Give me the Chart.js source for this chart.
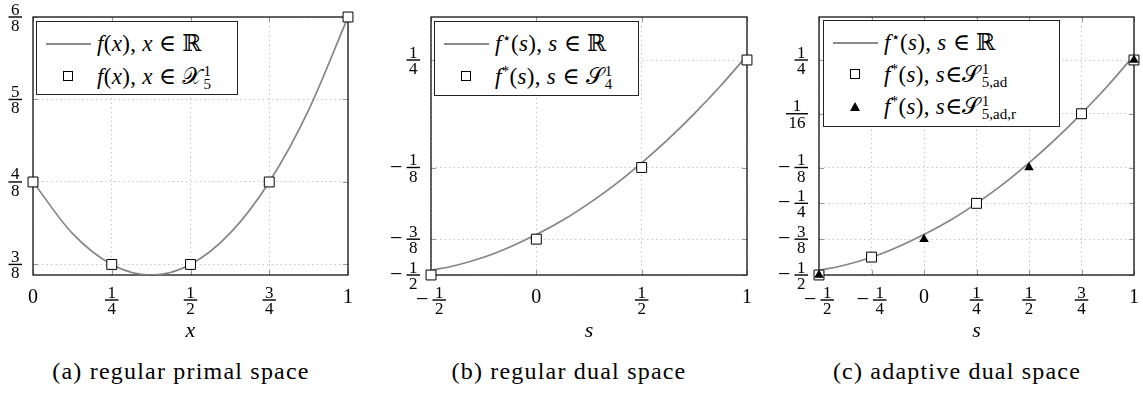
<!DOCTYPE html>
<html>
<head>
<meta charset="utf-8">
<script src="https://cdn.jsdelivr.net/npm/chart.js@4.4.0/dist/chart.umd.min.js"></script>
<style>
  body { margin: 0; background: #fff; width: 1143px; height: 393px; position: relative; overflow: hidden;
         font-family: 'Liberation Serif', 'Times New Roman', Tinos, 'DejaVu Serif', serif; color: #000; }
  canvas { position: absolute; top: 0; }
  .legend { position: absolute; background: #fff; border: 1.3px solid #222; box-sizing: border-box; font-size: 23px; }
  .row { position: absolute; left: 0; right: 0; height: 32px; }
  .txt { position: absolute; left: 60px; top: 0; line-height: 32px; white-space: nowrap; letter-spacing: 0.3px; }
  .line { position: absolute; left: 9px; width: 45px; height: 2px; top: 15px; background: #8a8a8a; }
  .sq { position: absolute; left: 26px; top: 10px; width: 10px; height: 10px; border: 1px solid #000; box-sizing: border-box; background: #fff; }
  .tri { position: absolute; left: 26px; top: 11px; width: 0; height: 0; border-left: 5px solid transparent;
         border-right: 5px solid transparent; border-bottom: 9px solid #000; }
  .ss { display: inline-flex; flex-direction: column; font-size: 15px; line-height: 13px; vertical-align: 8px; margin-left: 1px; letter-spacing: 0; }
  sup { font-size: 15px; vertical-align: 8px; line-height: 0; }
  .cap { position: absolute; top: 358px; font-size: 24px; letter-spacing: 1.2px; white-space: nowrap; transform: translateX(-50%); }
</style>
</head>
<body>
<canvas id="chartA" width="370" height="345" style="left:0px"></canvas>
<canvas id="chartB" width="380" height="345" style="left:380px"></canvas>
<canvas id="chartC" width="383" height="345" style="left:760px"></canvas>

<div class="legend" style="left:36px;top:21px;width:202px;height:74px">
  <div class="row" style="top:6px"><span class="line"></span><span class="txt"><i>f</i>(<i>x</i>), <i>x</i> ∈ ℝ</span></div>
  <div class="row" style="top:39px"><span class="sq"></span><span class="txt"><i>f</i>(<i>x</i>), <i>x</i> ∈ 𝒳<span class="ss"><span>1</span><span>5</span></span></span></div>
</div>
<div class="legend" style="left:434px;top:21px;width:205px;height:75px">
  <div class="row" style="top:6px"><span class="line"></span><span class="txt"><i>f</i><sup>⋆</sup>(<i>s</i>), <i>s</i> ∈ ℝ</span></div>
  <div class="row" style="top:39px"><span class="sq"></span><span class="txt"><i>f</i><sup>*</sup>(<i>s</i>), <i>s</i> ∈ 𝒮<span class="ss"><span>1</span><span>4</span></span></span></div>
</div>
<div class="legend" style="left:823px;top:20px;width:237px;height:107px">
  <div class="row" style="top:6px"><span class="line"></span><span class="txt"><i>f</i><sup>⋆</sup>(<i>s</i>), <i>s</i> ∈ ℝ</span></div>
  <div class="row" style="top:38px"><span class="sq"></span><span class="txt"><i>f</i><sup>*</sup>(<i>s</i>), <i>s</i>∈𝒮<span class="ss"><span>1</span><span>5,ad</span></span></span></div>
  <div class="row" style="top:70px"><span class="tri"></span><span class="txt"><i>f</i><sup>*</sup>(<i>s</i>), <i>s</i>∈𝒮<span class="ss"><span>1</span><span>5,ad,r</span></span></span></div>
</div>

<div class="cap" style="left:181px">(a) regular primal space</div>
<div class="cap" style="left:569px">(b) regular dual space</div>
<div class="cap" style="left:957px">(c) adaptive dual space</div>

<script>
// (a) primal function f(x)
const xCurveA = [0, 0.125, 0.25, 0.375, 0.5, 0.625, 0.75, 0.875, 1];
const yCurveA = [0.5, 0.422, 0.375, 0.359, 0.375, 0.422, 0.5, 0.609, 0.75];
const xPtsA = [0, 0.25, 0.5, 0.75, 1];
const yPtsA = [0.5, 0.375, 0.375, 0.5, 0.75];

// (b), (c) dual function f*(s)
const sCurve = [-0.5, -0.375, -0.25, -0.125, 0, 0.125, 0.25, 0.375, 0.5, 0.625, 0.75, 0.875, 1];
const fsCurve = [-0.484, -0.465, -0.438, -0.402, -0.359, -0.309, -0.25, -0.184, -0.109, -0.027, 0.063, 0.16, 0.266];
const sPtsB = [-0.5, 0, 0.5, 1];
const fPtsB = [-0.5, -0.375, -0.125, 0.25];
const sAd = [-0.5, -0.25, 0.25, 0.75, 1];
const fAd = [-0.5, -0.4375, -0.25, 0.0625, 0.25];
const sAdR = [-0.5, 0, 0.5, 1];
const fAdR = [-0.5, -0.375, -0.125, 0.25];

// tick positions and labels
const xTicksA = [0, 0.25, 0.5, 0.75, 1];
const xLabelsA = ['0', '1/4', '1/2', '3/4', '1'];
const yTicksA = [0.375, 0.5, 0.625, 0.75];
const yLabelsA = ['3/8', '4/8', '5/8', '6/8'];
const xTicksB = [-0.5, 0, 0.5, 1];
const xLabelsB = ['-1/2', '0', '1/2', '1'];
const yTicksB = [-0.5, -0.375, -0.125, 0.25];
const yLabelsB = ['-1/2', '-3/8', '-1/8', '1/4'];
const xTicksC = [-0.5, -0.25, 0, 0.25, 0.5, 0.75, 1];
const xLabelsC = ['-1/2', '-1/4', '0', '1/4', '1/2', '3/4', '1'];
const yTicksC = [-0.5, -0.375, -0.25, -0.125, 0.0625, 0.25];
const yLabelsC = ['-1/2', '-3/8', '-1/4', '-1/8', '1/16', '1/4'];

const SERIF = '"Liberation Serif", "Times New Roman", Tinos, "DejaVu Serif", serif';
const pts = (xs, ys) => xs.map((x, i) => ({ x: x, y: ys[i] }));

// draws "n/d" as a stacked fraction, with an optional minus in front
function drawLabel(ctx, text, x, y, align) {
  const neg = text[0] === '-';
  const body = neg ? text.slice(1) : text;
  let w, parts = body.split('/');
  ctx.font = '17px ' + SERIF;
  if (parts.length === 2) {
    w = Math.max(ctx.measureText(parts[0]).width, ctx.measureText(parts[1]).width) + 5;
  } else {
    ctx.font = '20px ' + SERIF;
    w = ctx.measureText(body).width;
  }
  ctx.font = '22px ' + SERIF;
  const mw = neg ? ctx.measureText('\u2212').width + 4 : 0;
  let x0 = align === 'center' ? x - (w + mw) / 2 : x - (w + mw);
  ctx.fillStyle = '#000';
  ctx.textAlign = 'left';
  ctx.textBaseline = 'alphabetic';
  if (neg) {
    ctx.fillText('\u2212', x0, y + 6);
    x0 += mw;
  }
  ctx.textAlign = 'center';
  if (parts.length === 2) {
    ctx.font = '17px ' + SERIF;
    ctx.fillText(parts[0], x0 + w / 2, y - 2.5);
    ctx.fillText(parts[1], x0 + w / 2, y + 14);
    ctx.fillRect(x0, y - 0.7, w, 1.4);
  } else {
    ctx.font = '20px ' + SERIF;
    ctx.fillText(body, x0 + w / 2, y + 3);
  }
}

const frame = {
  id: 'frame',
  beforeDatasetsDraw(chart) {
    const ctx = chart.ctx, a = chart.chartArea, sx = chart.scales.x, sy = chart.scales.y;
    ctx.save();
    ctx.strokeStyle = '#9a9a9a';
    ctx.lineWidth = 1;
    ctx.beginPath();
    sx.ticks.forEach(t => {
      const p = Math.round(sx.getPixelForValue(t.value)) + 0.5;
      ctx.moveTo(p, a.bottom); ctx.lineTo(p, a.bottom - 5);
      ctx.moveTo(p, a.top); ctx.lineTo(p, a.top + 5);
    });
    sy.ticks.forEach(t => {
      const p = Math.round(sy.getPixelForValue(t.value)) + 0.5;
      ctx.moveTo(a.left, p); ctx.lineTo(a.left + 5, p);
      ctx.moveTo(a.right, p); ctx.lineTo(a.right - 5, p);
    });
    ctx.stroke();
    ctx.strokeStyle = '#111';
    ctx.lineWidth = 1.3;
    ctx.strokeRect(a.left, a.top, a.right - a.left, a.bottom - a.top);
    ctx.restore();
  },
  afterDraw(chart, args, opts) {
    const ctx = chart.ctx, a = chart.chartArea, sx = chart.scales.x, sy = chart.scales.y;
    ctx.save();
    opts.xTicks.forEach((v, i) => drawLabel(ctx, opts.xLabels[i], sx.getPixelForValue(v), a.bottom + 25, 'center'));
    opts.yTicks.forEach((v, i) => drawLabel(ctx, opts.yLabels[i], a.left - 11, sy.getPixelForValue(v), 'right'));
    ctx.font = 'italic 22px ' + SERIF;
    ctx.textAlign = 'center';
    ctx.textBaseline = 'alphabetic';
    ctx.fillText(opts.title, (a.left + a.right) / 2, a.bottom + 62);
    ctx.restore();
  }
};

function makeChart(id, c) {
  const datasets = [
    { data: pts(c.cx, c.cy), showLine: true, borderColor: '#858585', borderWidth: 1.7, pointRadius: 0,
      cubicInterpolationMode: 'monotone', order: 3 },
    { data: pts(c.px, c.py), showLine: false, pointStyle: 'rect', pointRadius: 7, pointBorderWidth: 1,
      pointBorderColor: '#000', pointBackgroundColor: '#fff', clip: false, order: 1 }
  ];
  if (c.tx) {
    datasets.push({ data: pts(c.tx, c.ty), showLine: false, pointStyle: 'triangle', pointRadius: 5.5,
      pointBorderWidth: 0, pointBackgroundColor: '#000', clip: false, order: 0 });
  }
  const axis = (min, max, ticks) => ({
    type: 'linear', min: min, max: max,
    afterBuildTicks: s => { s.ticks = ticks.map(v => ({ value: v })); },
    ticks: { display: false },
    grid: { color: '#c8c8c8', lineWidth: 1, drawTicks: false },
    border: { display: false, dash: [1.5, 3] }
  });
  return new Chart(id, {
    type: 'scatter',
    data: { datasets: datasets },
    options: {
      responsive: false, animation: false, devicePixelRatio: 1,
      layout: { padding: c.pad },
      scales: { x: axis(c.xmin, c.xmax, c.xTicks), y: axis(c.ymin, c.ymax, c.yTicks) },
      plugins: {
        legend: { display: false }, tooltip: { enabled: false },
        frame: { xTicks: c.xTicks, xLabels: c.xLabels, yTicks: c.yTicks, yLabels: c.yLabels, title: c.title }
      }
    },
    plugins: [frame]
  });
}

makeChart('chartA', { cx: xCurveA, cy: yCurveA, px: xPtsA, py: yPtsA,
  xmin: 0, xmax: 1, ymin: 0.359, ymax: 0.75, xTicks: xTicksA, xLabels: xLabelsA, yTicks: yTicksA, yLabels: yLabelsA,
  title: 'x', pad: { left: 33, right: 22, top: 17, bottom: 70 } });
makeChart('chartB', { cx: sCurve, cy: fsCurve, px: sPtsB, py: fPtsB,
  xmin: -0.5, xmax: 1, ymin: -0.5, ymax: 0.4, xTicks: xTicksB, xLabels: xLabelsB, yTicks: yTicksB, yLabels: yLabelsB,
  title: 's', pad: { left: 51, right: 13, top: 17, bottom: 70 } });
makeChart('chartC', { cx: sCurve, cy: fsCurve, px: sAd, py: fAd, tx: sAdR, ty: fAdR,
  xmin: -0.5, xmax: 1, ymin: -0.5, ymax: 0.4, xTicks: xTicksC, xLabels: xLabelsC, yTicks: yTicksC, yLabels: yLabelsC,
  title: 's', pad: { left: 59, right: 9, top: 17, bottom: 70 } });
</script>
</body>
</html>
